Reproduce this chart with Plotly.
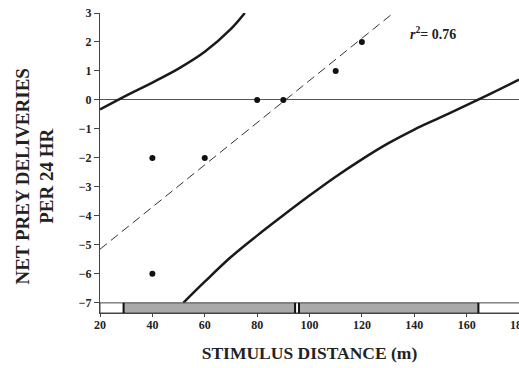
import plotly.graph_objects as go

# observed data points
pts_x = [40, 40, 60, 80, 90, 110, 120]
pts_y = [-2, -6, -2, 0, 0, 1, 2]

# regression line endpoints
reg_x = [20, 132]
reg_y = [-5.15, 3.0]

# upper confidence curve
up_x = [20, 30, 40, 50, 60, 70, 75.3]
up_y = [-0.33, 0.15, 0.6, 1.08, 1.66, 2.45, 3.0]

# lower confidence curve
lo_x = [51.8, 60, 70, 80, 90, 100, 110, 120, 130, 140, 150, 160, 170, 180]
lo_y = [-7.0, -6.27, -5.42, -4.68, -3.98, -3.3, -2.65, -2.05, -1.5, -1.02, -0.6, -0.18, 0.25, 0.7]

# bottom bar segments
bar_edges = [20, 29, 94.5, 96, 164.5, 181]
bar_fills = ["white", "#a9a9a9", "white", "#a9a9a9", "white"]

x_ticks = [20, 40, 60, 80, 100, 120, 140, 160, 180]
y_ticks = [3, 2, 1, 0, -1, -2, -3, -4, -5, -6, -7]

font = "Liberation Serif"

fig = go.Figure()
fig.add_trace(go.Scatter(x=reg_x, y=reg_y, mode="lines",
                         line=dict(color="#333", width=1, dash="9px,5px")))
fig.add_trace(go.Scatter(x=up_x, y=up_y, mode="lines", line_shape="spline",
                         line=dict(color="#1a1a1a", width=2.5)))
fig.add_trace(go.Scatter(x=lo_x, y=lo_y, mode="lines", line_shape="spline",
                         line=dict(color="#1a1a1a", width=2.5)))
fig.add_trace(go.Scatter(x=pts_x, y=pts_y, mode="markers",
                         marker=dict(color="#111", size=6)))

shapes = []
for i, f in enumerate(bar_fills):
    shapes.append(dict(type="rect", xref="x", yref="y",
                       x0=bar_edges[i], x1=bar_edges[i + 1], y0=-7.35, y1=-7.0,
                       fillcolor=f, line=dict(color="#444", width=1), layer="above"))
for e in bar_edges[1:-1]:
    shapes.append(dict(type="line", xref="x", yref="y", x0=e, x1=e, y0=-7.35, y1=-7.0,
                       line=dict(color="#111", width=2), layer="above"))
fig.update_layout(shapes=shapes)

fig.add_annotation(x=137.5, y=2.31, xref="x", yref="y", xanchor="left", showarrow=False,
                   text="<i>r</i><sup>2</sup>= 0.76",
                   font=dict(family=font, size=14, color="#222", weight="bold"))

# y-axis title as annotation (placed as in the reference)
fig.add_annotation(x=-0.155, y=0.455, xref="paper", yref="paper", showarrow=False,
                   xanchor="center", yanchor="middle",
                   textangle=-90, text="NET PREY DELIVERIES<br>PER 24 HR",
                   font=dict(family=font, size=19, weight="bold", color="#222"))

fig.update_layout(
    width=519, height=368,
    margin=dict(l=100, r=0, t=13, b=55),
    paper_bgcolor="white", plot_bgcolor="white",
    showlegend=False,
    font=dict(family=font, color="#222"),
    xaxis=dict(range=[20, 180], tickvals=x_ticks, ticks="outside", ticklen=3,
               ticklabelstandoff=-2, ticklabeloverflow="allow", automargin=False,
               showline=True, linecolor="#444", linewidth=1, showgrid=False, zeroline=False,
               tickfont=dict(family=font, size=12, weight="bold", color="#222"),
               title=dict(text="STIMULUS DISTANCE (m)", standoff=15,
                          font=dict(family=font, size=17.5, weight="bold", color="#222"))),
    yaxis=dict(range=[-7.35, 3], tickvals=y_ticks, ticks="outside", ticklen=5,
               showline=True, linecolor="#444", linewidth=1, showgrid=False,
               automargin=False,
               zeroline=True, zerolinecolor="#555", zerolinewidth=1.2,
               tickfont=dict(family=font, size=12, weight="bold", color="#222")),
)

fig.write_html("out.html")
